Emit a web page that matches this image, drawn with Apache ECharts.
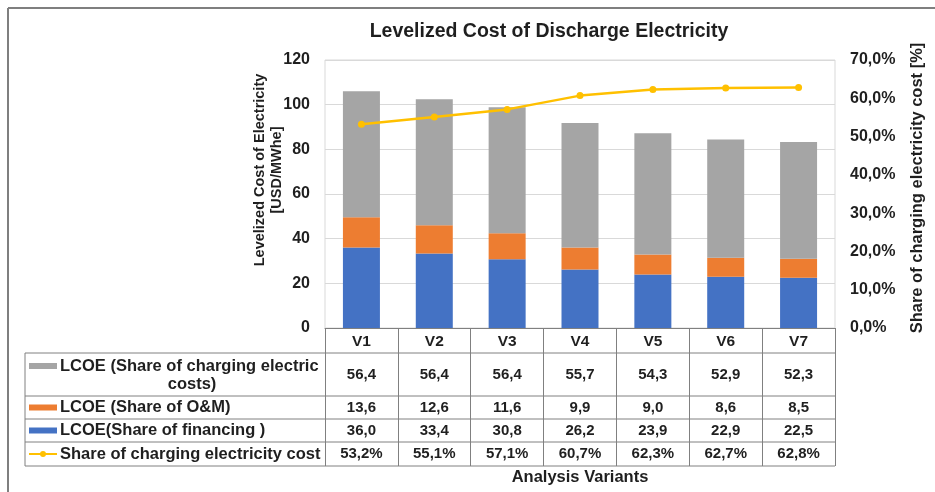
<!DOCTYPE html>
<html>
<head>
<meta charset="utf-8">
<script src="https://cdn.jsdelivr.net/npm/echarts@6/dist/echarts.min.js"></script>
<style>html,body{margin:0;padding:0;background:#fff;}#c{width:935px;height:492px;}</style>
</head>
<body>
<div id="c"></div>
<script>
const categories = ['V1','V2','V3','V4','V5','V6','V7'];
const chargingCost = [56.4, 56.4, 56.4, 55.7, 54.3, 52.9, 52.3];
const omCost = [13.6, 12.6, 11.6, 9.9, 9.0, 8.6, 8.5];
const financingCost = [36.0, 33.4, 30.8, 26.2, 23.9, 22.9, 22.5];
const chargingShare = [0.532, 0.551, 0.571, 0.607, 0.623, 0.627, 0.628];
const rowLabels = ['LCOE (Share of charging electric', 'LCOE (Share of O&M)', 'LCOE(Share of financing )', 'Share of charging electricity cost'];

const FONT = '"Liberation Sans", Arial, sans-serif';
const TXT = '#1f1f1f';
const C_GRAY = '#a5a5a5', C_ORANGE = '#ed7d31', C_BLUE = '#4472c4', C_YELLOW = '#ffc000';
const fmt1 = v => v.toFixed(1).replace('.', ',');
const fmtPct = v => (v * 100).toFixed(1).replace('.', ',') + '%';

const chart = echarts.init(document.getElementById('c'), null, {renderer: 'canvas'});
const GRID = {left: 325, right: 100, top: 60, bottom: 164};
chart.setOption({
  animation: false,
  backgroundColor: '#fff',
  title: {
    text: 'Levelized Cost of Discharge Electricity',
    left: 544, top: 17, textAlign: 'center',
    textStyle: {fontFamily: FONT, fontWeight: 'bold', fontSize: 19.5, color: TXT}
  },
  grid: Object.assign({show: true, borderColor: '#d9d9d9', borderWidth: 1}, GRID),
  xAxis: {
    type: 'category', data: categories,
    axisLine: {lineStyle: {color: '#808080', width: 1}},
    axisTick: {show: true, length: 138, interval: 0, alignWithLabel: false, lineStyle: {color: '#808080', width: 1}},
    axisLabel: {fontFamily: FONT, fontWeight: 'bold', fontSize: 15.5, color: TXT, margin: 6},
    name: 'Analysis Variants', nameLocation: 'middle', nameGap: 141,
    nameTextStyle: {fontFamily: FONT, fontWeight: 'bold', fontSize: 16.5, color: TXT}
  },
  yAxis: [{
    type: 'value', min: 0, max: 120, interval: 20,
    axisLine: {show: false}, axisTick: {show: false},
    splitLine: {lineStyle: {color: '#d9d9d9', width: 1}},
    axisLabel: {fontFamily: FONT, fontWeight: 'bold', fontSize: 16, color: TXT, margin: 15}
  }, {
    type: 'value', min: 0, max: 0.7, interval: 0.1,
    axisLine: {show: false}, axisTick: {show: false}, splitLine: {show: false},
    axisLabel: {fontFamily: FONT, fontWeight: 'bold', fontSize: 16, color: TXT, margin: 15, formatter: fmtPct}
  }],
  series: [
    {name: 'LCOE(Share of financing )', type: 'bar', stack: 'lcoe', data: financingCost, barWidth: 37, itemStyle: {color: C_BLUE}},
    {name: 'LCOE (Share of O&M)', type: 'bar', stack: 'lcoe', data: omCost, barWidth: 37, itemStyle: {color: C_ORANGE}},
    {name: 'LCOE (Share of charging electric costs)', type: 'bar', stack: 'lcoe', data: chargingCost, barWidth: 37, itemStyle: {color: C_GRAY}},
    {name: 'Share of charging electricity cost', type: 'line', yAxisIndex: 1, data: chargingShare,
     symbol: 'circle', symbolSize: 7, lineStyle: {color: C_YELLOW, width: 2.5}, itemStyle: {color: C_YELLOW}, z: 5}
  ]
});

// Data table below the plot
const rowsY = [374.5, 407.5, 430.5, 454];
const rowLines = [353, 396, 419, 442, 466];
const tableLeft = 25;
const tableRight = 935 - GRID.right;
const rowValues = [chargingCost.map(fmt1), omCost.map(fmt1), financingCost.map(fmt1), chargingShare.map(fmtPct)];
const g = [];
// frame
g.push({type: 'line', shape: {x1: 8, y1: 8, x2: 935, y2: 8}, style: {stroke: '#7f7f7f', lineWidth: 2}});
g.push({type: 'line', shape: {x1: 8, y1: 8, x2: 8, y2: 492}, style: {stroke: '#7f7f7f', lineWidth: 2}});
rowLines.forEach(y => g.push({type: 'line', shape: {x1: tableLeft, y1: y, x2: tableRight, y2: y}, style: {stroke: '#808080', lineWidth: 1}}));
g.push({type: 'line', shape: {x1: tableLeft, y1: rowLines[0], x2: tableLeft, y2: rowLines[4]}, style: {stroke: '#808080', lineWidth: 1}});
const tStyle = (extra) => Object.assign({fontFamily: FONT, fontWeight: 'bold', fontSize: 15, fill: TXT, textVerticalAlign: 'middle'}, extra);
rowValues.forEach((vals, r) => {
  vals.forEach((t, i) => {
    const x = chart.convertToPixel({xAxisIndex: 0}, categories[i]);
    g.push({type: 'text', style: tStyle({text: t, x: x, y: rowsY[r], textAlign: 'center'})});
  });
});
// row labels
const LF = 16.5;
g.push({type: 'text', style: tStyle({text: rowLabels[0], x: 60, y: 366, textAlign: 'left', fontSize: LF})});
g.push({type: 'text', style: tStyle({text: 'costs)', x: 192, y: 384, textAlign: 'center', fontSize: LF})});
g.push({type: 'text', style: tStyle({text: rowLabels[1], x: 60, y: rowsY[1], textAlign: 'left', fontSize: LF})});
g.push({type: 'text', style: tStyle({text: rowLabels[2], x: 60, y: rowsY[2], textAlign: 'left', fontSize: LF})});
g.push({type: 'text', style: tStyle({text: rowLabels[3], x: 60, y: rowsY[3], textAlign: 'left', fontSize: LF})});
// legend keys
g.push({type: 'rect', shape: {x: 29, y: 363, width: 28, height: 6}, style: {fill: C_GRAY}});
g.push({type: 'rect', shape: {x: 29, y: rowsY[1] - 3, width: 28, height: 6}, style: {fill: C_ORANGE}});
g.push({type: 'rect', shape: {x: 29, y: rowsY[2] - 3, width: 28, height: 6}, style: {fill: C_BLUE}});
g.push({type: 'line', shape: {x1: 29, y1: rowsY[3], x2: 57, y2: rowsY[3]}, style: {stroke: C_YELLOW, lineWidth: 2}});
g.push({type: 'circle', shape: {cx: 43, cy: rowsY[3], r: 3}, style: {fill: C_YELLOW}});
// axis names
g.push({type: 'text', rotation: Math.PI / 2, x: 268, y: 170,
  style: tStyle({text: 'Levelized Cost of Electricity\n[USD/MWhe]', x: 0, y: 0, textAlign: 'center', fontSize: 14.5, lineHeight: 17})});
g.push({type: 'text', rotation: Math.PI / 2, x: 917, y: 188,
  style: tStyle({text: 'Share of charging electricity cost [%]', x: 0, y: 0, textAlign: 'center', fontSize: 16.5})});
chart.setOption({graphic: g});
</script>
</body>
</html>
